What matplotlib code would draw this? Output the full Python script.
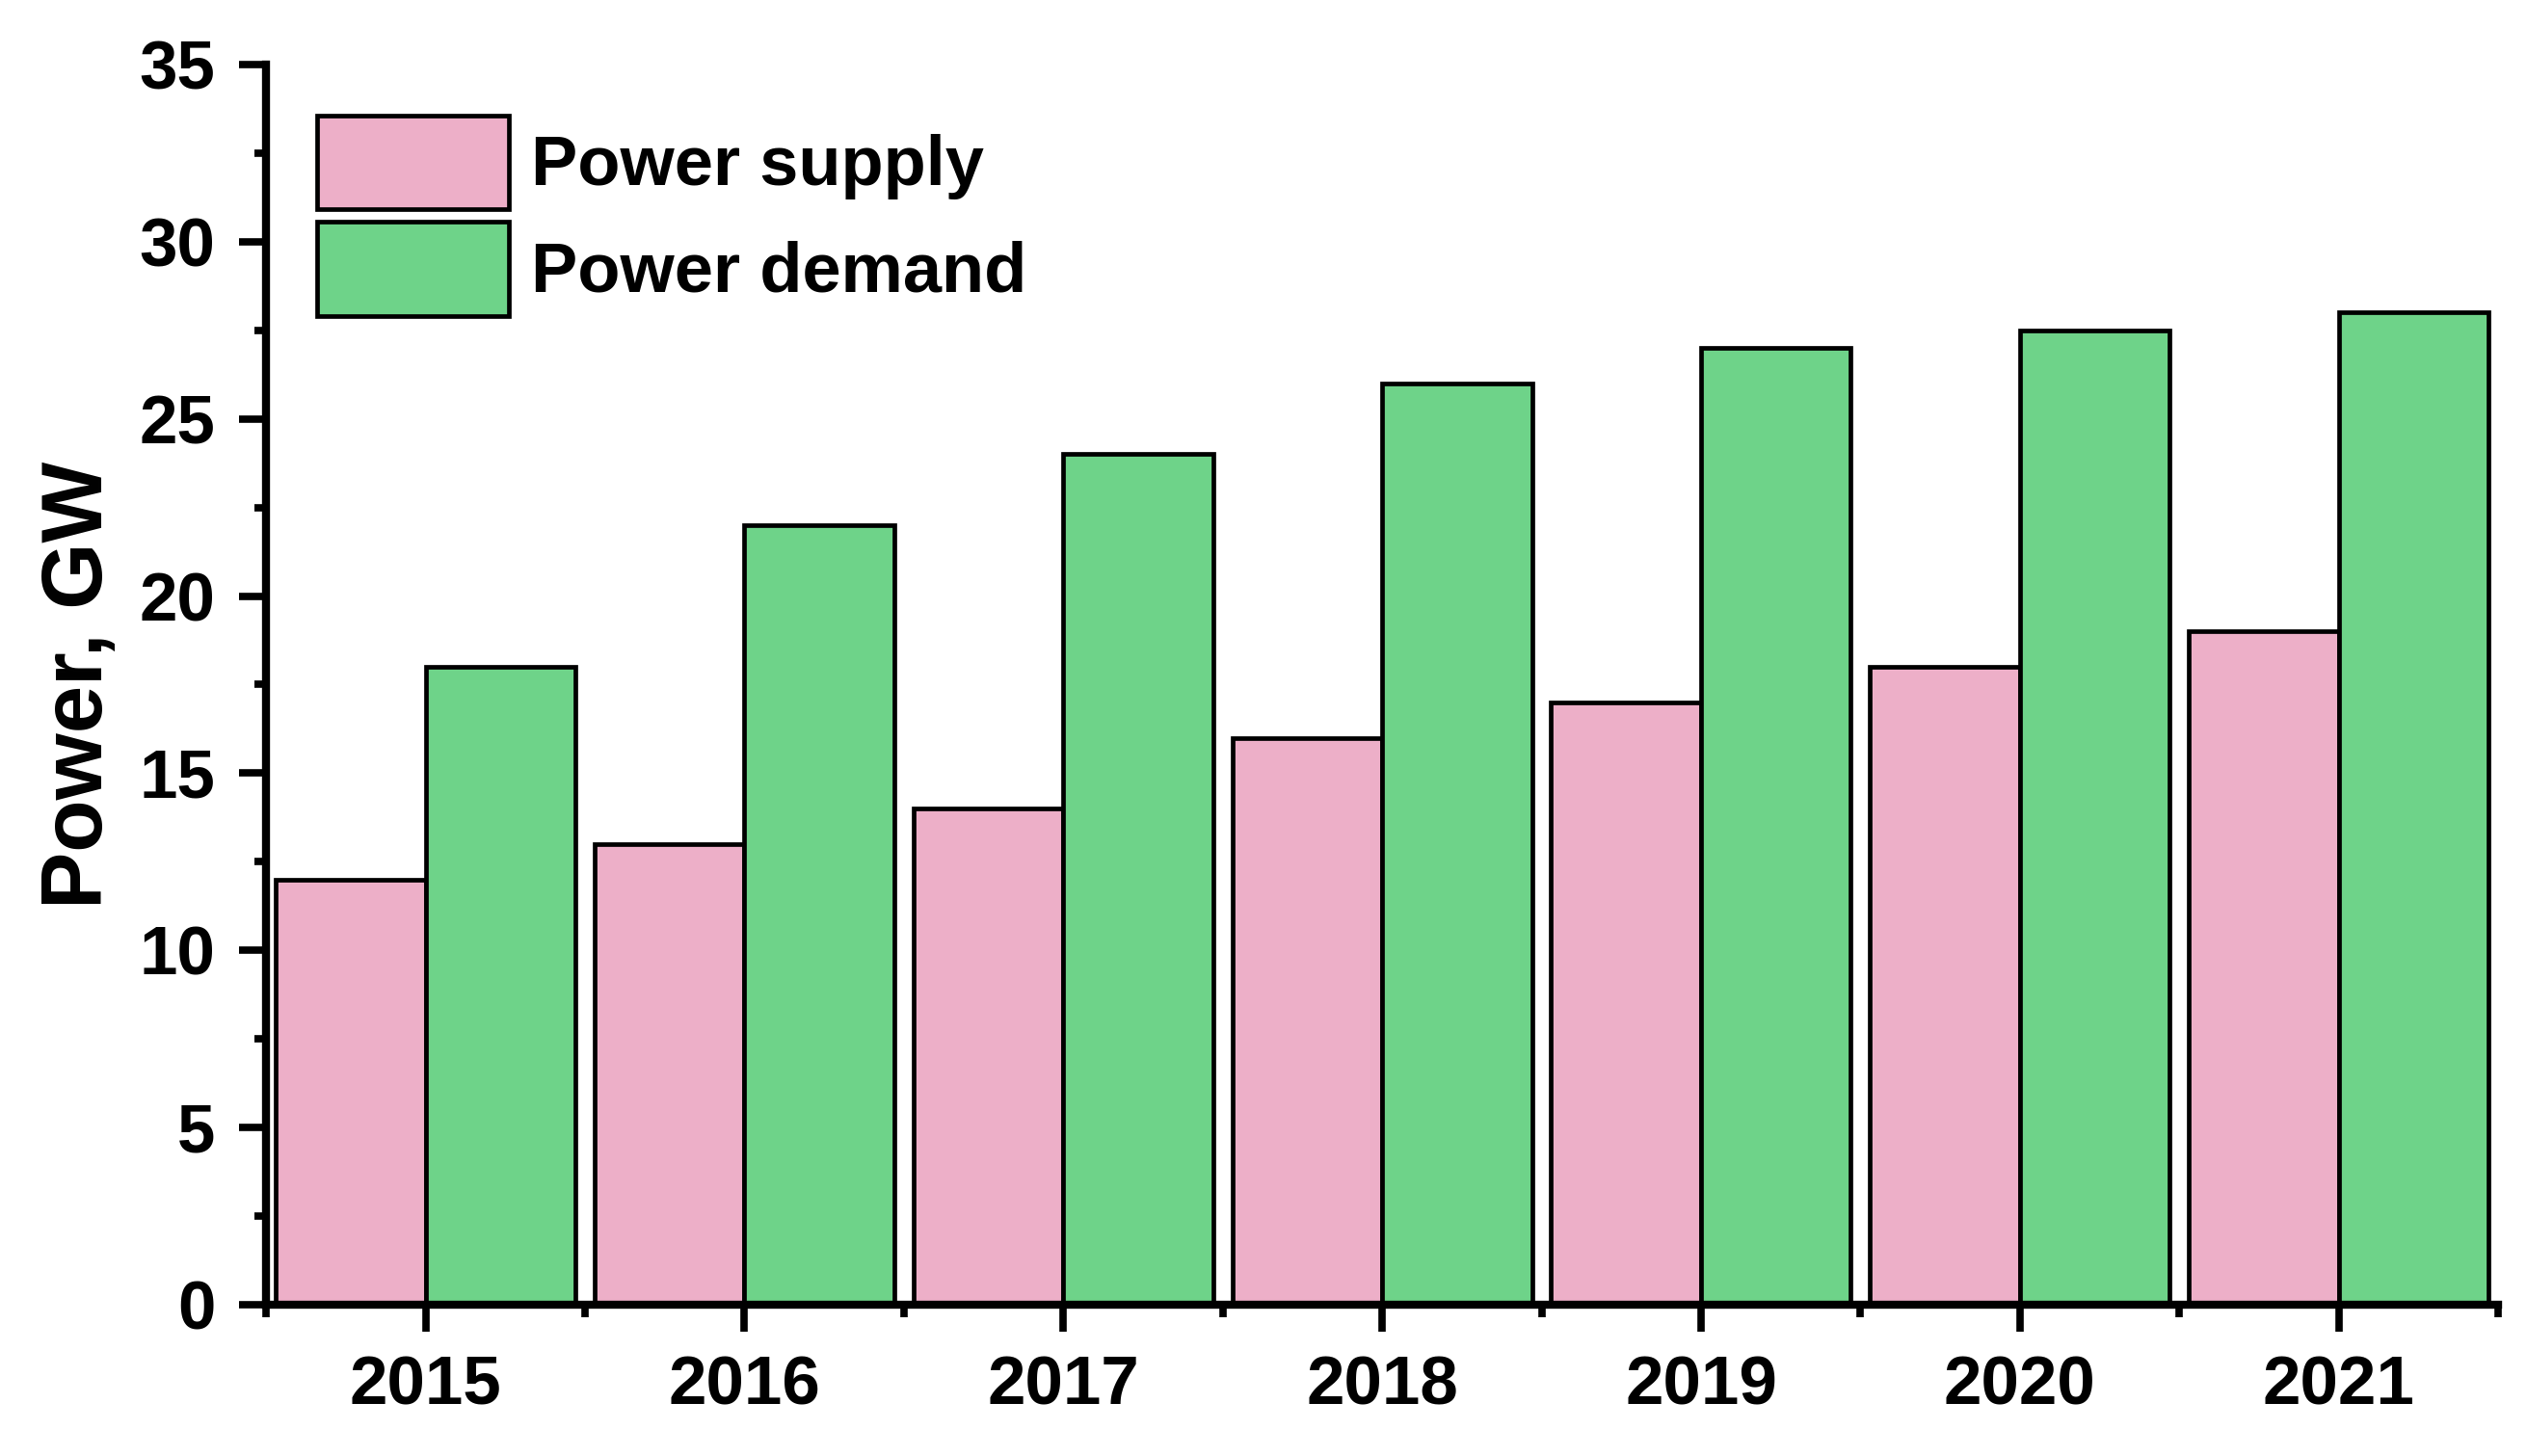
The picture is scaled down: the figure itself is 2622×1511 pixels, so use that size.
import matplotlib
matplotlib.use("Agg")
import matplotlib.pyplot as plt
import numpy as np
from matplotlib.ticker import MultipleLocator, FixedLocator

years = [2015, 2016, 2017, 2018, 2019, 2020, 2021]
supply = [12, 13, 14, 16, 17, 18, 19]
demand = [18, 22, 24, 26, 27, 27.5, 28]
labels = ["Power supply", "Power demand"]
colors = ["#EDAFC8", "#6ED389"]

plt.rcParams['font.family'] = ['Liberation Sans', 'DejaVu Sans']
plt.rcParams['font.weight'] = 'bold'

fig = plt.figure(figsize=(26.22, 15.11), dpi=100)
ax = fig.add_axes([0.1053, 0.1039, 0.9886 - 0.1053, 0.9557 - 0.1039])

x = np.array(years, dtype=float)
w = 0.47
ax.bar(x - w / 2, supply, width=w, color=colors[0], edgecolor='black', linewidth=3.4, label=labels[0])
ax.bar(x + w / 2, demand, width=w, color=colors[1], edgecolor='black', linewidth=3.4, label=labels[1])

ax.set_xlim(years[0] - 0.5, years[-1] + 0.5)
ax.set_ylim(0, 35)

for s in ['top', 'right']:
    ax.spines[s].set_visible(False)
for s in ['left', 'bottom']:
    ax.spines[s].set_linewidth(6)

ax.set_xticks(years)
ax.set_xticklabels([str(y) for y in years])
ax.xaxis.set_minor_locator(FixedLocator([y - 0.5 for y in years] + [years[-1] + 0.5]))
ax.yaxis.set_major_locator(MultipleLocator(5))
ax.yaxis.set_minor_locator(MultipleLocator(2.5))

ax.tick_params(axis='both', which='major', direction='out', length=20, width=5.5,
               labelsize=51, pad=18)
ax.tick_params(axis='both', which='minor', direction='out', length=9, width=5.5)
for lab in ax.get_xticklabels() + ax.get_yticklabels():
    lab.set_fontweight('bold')

ax.set_ylabel("Power, GW", fontsize=64, fontweight='bold', labelpad=14)

leg = ax.legend(loc='upper left', bbox_to_anchor=(0.0229, 0.9588), frameon=False,
                fontsize=52, handlelength=2.75, handleheight=1.70, labelspacing=0.18,
                handletextpad=0.32, borderpad=0, borderaxespad=0)
for t in leg.get_texts():
    t.set_fontweight('bold')

fig.savefig("out.png", dpi=100)
